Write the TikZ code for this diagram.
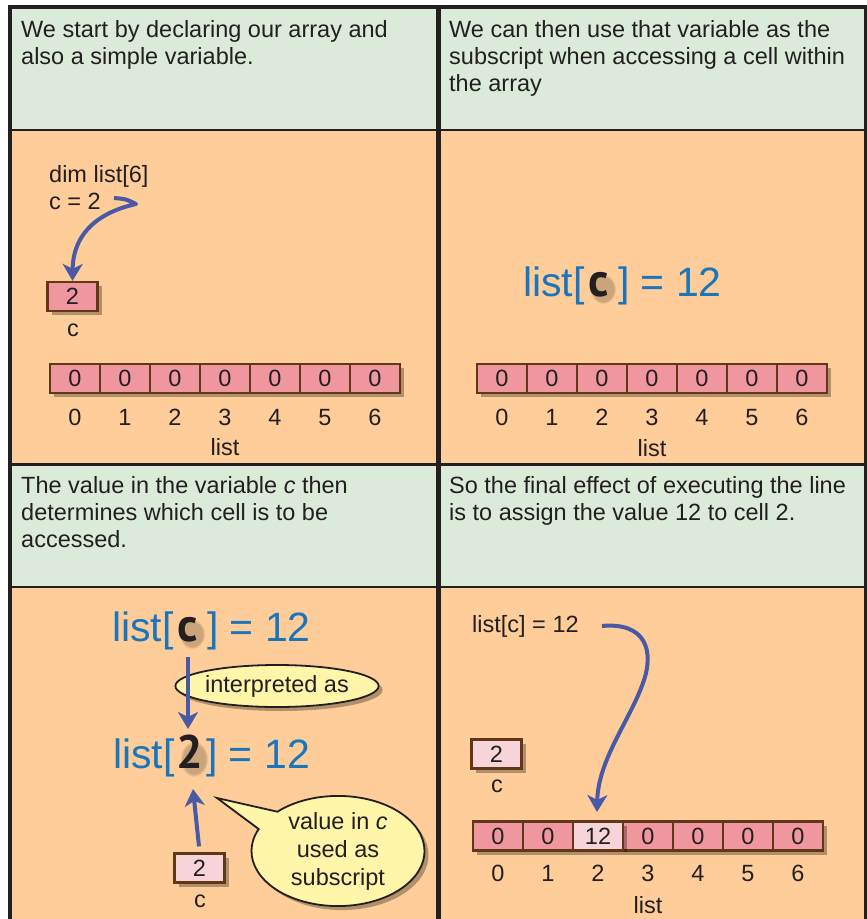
\documentclass[tikz,border=0pt]{standalone}
\usepackage{fontspec}
\setmainfont{Liberation Sans}
\newfontfamily\bsans{PT Sans}
\usetikzlibrary{shapes.geometric,shapes.callouts,shadows,arrows.meta,fadings}
\definecolor{hdr}{RGB}{220,234,218}
\definecolor{bodyc}{RGB}{254,205,154}
\definecolor{frame}{RGB}{35,31,32}
\definecolor{cellpink}{RGB}{240,150,158}
\definecolor{celllight}{RGB}{246,212,217}
\definecolor{cellbrd}{RGB}{96,56,24}
\definecolor{bigblue}{RGB}{27,117,187}
\definecolor{arrowblue}{RGB}{74,89,166}
\definecolor{bubble}{RGB}{255,246,170}
\newcommand{\bchar}[1]{{\bsans\bfseries\fontsize{47}{47}\selectfont\textcolor{frame}{#1}}}
\newcommand{\bigeq}[3]{\textcolor{bigblue}{list[}\hspace{#2}\bchar{#1}\hspace{#3}\textcolor{bigblue}{] = 12}}
\tikzset{
  hd/.style={font=\fontsize{23.5}{27}\selectfont, text=frame, inner sep=0pt, anchor=north west, align=left},
  lbl/.style={font=\fontsize{23.5}{27}\selectfont, text=frame, inner sep=0pt},
  digit/.style={lbl, text height=16.8pt, text depth=0pt},
  big/.style={font=\fontsize{41}{41}\selectfont, inner sep=0pt, anchor=base},
  cell/.style={draw=cellbrd, line width=2.2pt, fill=cellpink, minimum width=50pt, minimum height=29pt, inner sep=0pt,
    font=\fontsize{23.5}{27}\selectfont, text=frame, text height=16.8pt, text depth=0pt,
    drop shadow={shadow xshift=4pt, shadow yshift=-4pt, opacity=0.3, fill=black}},
  cellL/.style={cell, fill=celllight},
  arr/.style={draw=arrowblue, line width=4pt, line join=round, -{Stealth[length=17pt,width=20pt,inset=5pt]}},
  framel/.style={draw=frame},
  gshadow/.style={fill=black, opacity=0.2, path fading=circle with fuzzy edge 20 percent}
}
\begin{document}
\begin{tikzpicture}[x=1pt,y=-1pt]
\useasboundingbox (0,0) rectangle (867,919);
% backgrounds
\fill[hdr] (10,7) rectangle (866,130);
\fill[bodyc] (10,130) rectangle (866,464);
\fill[hdr] (10,464) rectangle (866,587);
\fill[bodyc] (10,587) rectangle (866,925);
% frame lines
\draw[framel, line width=2.5pt] (10,130) -- (866,130);
\draw[framel, line width=2.5pt] (10,587) -- (866,587);
\draw[framel, line width=3.5pt] (10,464.5) -- (866,464.5);
\draw[framel, line width=4.5pt] (438.3,7) -- (438.3,925);
\draw[framel, line width=4.5pt] (10,925) -- (10,7) -- (866,7) -- (866,925);

% header texts
\node[hd] (h1) at (21,20) {We start by declaring our array and\\also a simple variable.};
\node[hd] (h2) at (449,20) {We can then use that variable as the\\subscript when accessing a cell within\\the array};
\node[hd] (h3) at (21,476) {The value in the variable \textit{c} then\\determines which cell is to be\\accessed.};
\node[hd] (h4) at (449,476) {So the final effect of executing the line\\is to assign the value 12 to cell 2.};

% ---------- panel 1
\node[lbl, anchor=base west] (p1a) at (49,182) {dim list[6]};
\node[lbl, anchor=base west] (p1b) at (49,209) {c = 2};
\node[cell] (c1) at (72.5,296.5) {2};
\node[lbl] (c1l) at (73,330) {c};
\foreach \i in {0,...,6} {
  \node[cell] (pa\i) at (75+50*\i,378.5) {0};
  \node[digit] (pai\i) at (75+50*\i,417) {\i};
}
\node[lbl] (pal) at (225,447) {list};
\coordinate (s1) at (114,198);
\draw[arr] (s1) .. controls (126,199) .. (136,204) .. controls (100,212) and (73,232) .. (c1.north);

% ---------- panel 2
\fill[gshadow] (603,289) ellipse (13pt and 15pt);
\node[big] (eq2) at (622.5,296) {\bigeq{c}{4pt}{9pt}};
\foreach \i in {0,...,6} {
  \node[cell] (pb\i) at (502+50*\i,378.5) {0};
  \node[digit] (pbi\i) at (502+50*\i,417) {\i};
}
\node[lbl] (pbl) at (652,448) {list};

% ---------- panel 3
\fill[gshadow] (192,634) ellipse (13pt and 15pt);
\fill[gshadow] (194,759) ellipse (14pt and 18pt);
\node[big] (eq3a) at (211.5,641) {\bigeq{c}{4pt}{9pt}};
\node[big] (eq3b) at (211.5,768) {\bigeq{2}{2pt}{3pt}};
\node[ellipse, draw=frame, line width=1.8pt, fill=bubble, minimum width=179pt, minimum height=42pt, inner sep=0pt,
  font=\fontsize{23.5}{27}\selectfont, text=frame,
  drop shadow={shadow xshift=4pt, shadow yshift=-4pt, opacity=0.3, fill=black}] (interp) at (277,686) {interpreted as};
\coordinate (d3s) at (188,657);
\coordinate (d3e) at (188,729);
\draw[arr] (d3s) -- (d3e);
\coordinate (bubtip) at (217,798);
\node[ellipse callout, draw=frame, line width=1.8pt, fill=bubble, minimum width=173pt, minimum height=107pt, inner sep=0pt,
  callout absolute pointer={(bubtip)}, callout pointer arc=22,
  font=\fontsize{23.5}{28}\selectfont, text=frame, align=center,
  drop shadow={shadow xshift=4pt, shadow yshift=-4pt, opacity=0.3, fill=black}] (bub) at (338,851) {value in \textit{c}\\used as\\subscript};
\node[cellL] (c3) at (199.5,868) {2};
\node[lbl] (c3l) at (200,901) {c};
\coordinate (u3e) at (193,789);
\draw[arr] ([yshift=6pt,xshift=-0.5pt]c3.north) -- (u3e);

% ---------- panel 4
\node[lbl, anchor=base west] (p4a) at (472,632) {list[c] = 12};
\node[cellL] (c4) at (496.5,754) {2};
\node[lbl] (c4l) at (497,786) {c};
\foreach \i/\v in {0/0,1/0,3/0,4/0,5/0,6/0} {
  \node[cell] (pd\i) at (498+50*\i,836) {\v};
}
\node[cellL] (pd2) at (598,836) {12};
\foreach \i in {0,...,6} {
  \node[digit] (pdi\i) at (498+50*\i,873) {\i};
}
\node[lbl] (pdl) at (648,905) {list};
\coordinate (s4) at (602,626);
\coordinate (e4) at (597,812);
\draw[arr] (s4) .. controls (645,622) and (655,650) .. (643,683) .. controls (630,720) and (598,760) .. (e4);
\end{tikzpicture}
\end{document}
